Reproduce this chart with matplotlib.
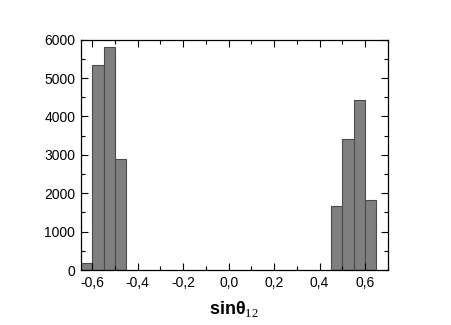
import numpy as np
import matplotlib
matplotlib.use('Agg')
import matplotlib.pyplot as plt
from matplotlib.ticker import MultipleLocator, FuncFormatter

plt.rcParams['font.family'] = ['Liberation Sans', 'DejaVu Sans']
plt.rcParams['mathtext.fontset'] = 'custom'
plt.rcParams['mathtext.bf'] = 'Liberation Sans:bold'
plt.rcParams['mathtext.rm'] = 'Liberation Serif'
plt.rcParams['mathtext.it'] = 'Liberation Sans'

# histogram of sin(theta_12), bins of width 0.05
bin_left = [-0.65, -0.60, -0.55, -0.50, 0.45, 0.50, 0.55, 0.60]
counts = [190, 5350, 5800, 2900, 1680, 3420, 4440, 1820]
bin_width = 0.05

fig = plt.figure(figsize=(4.52, 3.25), dpi=100)
ax = fig.add_axes([0.179, 0.169, 0.679, 0.709])

ax.bar(bin_left, counts, width=bin_width, align='edge',
       color='#7f7f7f', edgecolor='#4a4a4a', linewidth=0.8)

ax.set_xlim(-0.65, 0.70)
ax.set_ylim(0, 6000)
ax.xaxis.set_major_locator(MultipleLocator(0.2))
ax.xaxis.set_minor_locator(MultipleLocator(0.1))
ax.yaxis.set_major_locator(MultipleLocator(1000))
ax.yaxis.set_minor_locator(MultipleLocator(500))
ax.xaxis.set_major_formatter(FuncFormatter(lambda v, p: ('%.1f' % v).replace('.', ',').replace('-0,0', '0,0')))

ax.tick_params(which='both', direction='in', top=True, right=True,
               labelsize=10, pad=4, width=0.8)
ax.tick_params(which='major', length=5)
ax.tick_params(which='minor', length=3)
for s in ax.spines.values():
    s.set_linewidth(0.9)

ax.set_xlabel(r'$\mathbf{sin\theta}_{\mathrm{12}}$', fontsize=13, labelpad=7)

fig.savefig('out.png', dpi=100)
